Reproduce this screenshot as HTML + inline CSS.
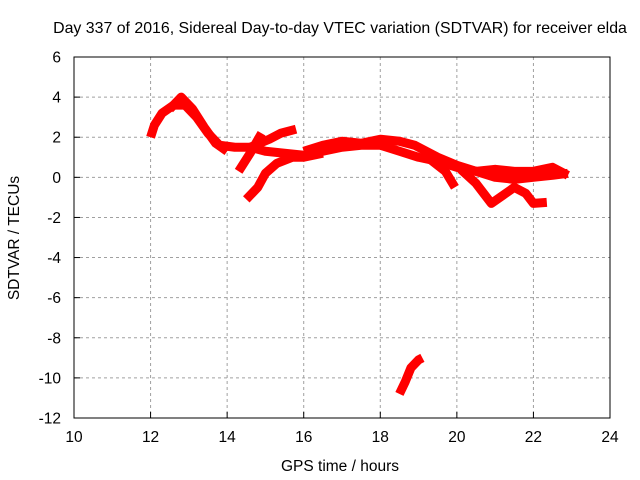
<!DOCTYPE html>
<html><head><meta charset="utf-8"><style>
body{margin:0;background:#fff}
svg{display:block;font-family:"Liberation Sans",sans-serif}
</style></head><body>
<svg id="c" width="640" height="480">
<rect width="640" height="480" fill="#fff"/>
<g id="grid"></g>
<g id="axes"></g>
<g id="series"></g>
<rect x="74" y="57" width="536" height="361" fill="none" stroke="#000" stroke-width="1"/>
<text x="340" y="33" text-anchor="middle" font-size="15.9">Day 337 of 2016, Sidereal Day-to-day VTEC variation (SDTVAR) for receiver elda</text>
<text x="340" y="471" text-anchor="middle" font-size="15.5">GPS time / hours</text>
<text transform="translate(19,238) rotate(-90)" text-anchor="middle" font-size="15.5">SDTVAR / TECUs</text>
</svg>
<script>
const xTicks=[10,12,14,16,18,20,22,24];
const yTicks=[6,4,2,0,-2,-4,-6,-8,-10,-12];
const trackMain=[[12.0,2.0],[12.1,2.6],[12.3,3.2],[12.6,3.6],[12.9,3.6],[13.2,3.0],[13.5,2.2],[13.8,1.6],[14.2,1.5],[14.6,1.5],[15.0,1.3],[15.5,1.2],[16,1.1],[16.5,1.3],[17,1.5],[17.5,1.6],[18,1.6],[18.5,1.3],[19,1.0],[19.5,0.8],[20,0.5],[20.5,0.3],[21,0.0],[21.5,-0.1],[22,0.0],[22.5,0.1],[22.9,0.2]];
const trackUpperArc=[[12.5,3.4],[12.8,4.0],[13.1,3.4],[13.4,2.5],[13.7,1.7],[14.0,1.3]];
const trackRiseB=[[14.5,-1.1],[14.8,-0.5],[15.0,0.2],[15.3,0.7],[15.7,1.0],[16,1.0],[16.5,1.2]];
const trackRiseC=[[14.3,0.3],[14.6,1.2],[14.9,2.2]];
const trackRiseD=[[14.6,1.5],[15.1,1.9],[15.4,2.2],[15.8,2.4]];
const trackUpperBand=[[16,1.3],[16.5,1.6],[17,1.8],[17.5,1.7],[18,1.9],[18.5,1.8],[18.9,1.6],[19.2,1.3],[19.5,1.0],[20,0.6],[20.5,0.3],[21,0.4],[21.5,0.3],[22,0.3],[22.5,0.5],[22.9,0.1]];
const trackDrop=[[19.3,0.9],[19.7,0.3],[19.95,-0.5]];
const trackLoop=[[20.1,0.4],[20.5,-0.3],[20.9,-1.3],[21.2,-0.9],[21.5,-0.5],[21.8,-0.8],[22.0,-1.3],[22.35,-1.25]];
const trackLow=[[18.5,-10.8],[18.65,-10.2],[18.8,-9.5],[19.0,-9.1],[19.1,-9.0]];
const tracks=[trackMain,trackUpperArc,trackRiseB,trackRiseC,trackRiseD,trackUpperBand,trackDrop,trackLoop,trackLow];
const NS="http://www.w3.org/2000/svg";
const X=h=>74+(h-10)*(536/14);
const Y=v=>57+(6-v)*(361/18);
const grid=document.getElementById('grid'),axes=document.getElementById('axes'),ser=document.getElementById('series');
function mk(tag,attrs,parent){const e=document.createElementNS(NS,tag);for(const k in attrs)e.setAttribute(k,attrs[k]);parent.appendChild(e);return e;}
xTicks.forEach(t=>{
  if(t>10&&t<24){const g=mk('line',{x1:X(t),x2:X(t),y1:57,y2:418,stroke:'#a0a0a0','stroke-dasharray':'3,3'},grid);
  
  }
  const tk=mk('line',{x1:X(t),x2:X(t),y1:418,y2:412,stroke:'#000'},axes);
  
  
  const l=mk('text',{x:X(t),y:442,'text-anchor':'middle','font-size':15.5},axes);l.textContent=t;
  
  
});
yTicks.forEach(t=>{
  if(t<6&&t>-12){const g=mk('line',{x1:74,x2:610,y1:Y(t),y2:Y(t),stroke:'#a0a0a0','stroke-dasharray':'3,3'},grid);
  
  }
  const tk=mk('line',{x1:74,x2:80,y1:Y(t),y2:Y(t),stroke:'#000'},axes);
  
  
  const l=mk('text',{x:61,y:Y(t)+5.5,'text-anchor':'end','font-size':15.5},axes);l.textContent=t;
  
  
});
tracks.forEach(tr=>{
  const p=mk('polyline',{points:tr.map(d=>X(d[0])+','+Y(d[1])).join(' '),fill:'none',stroke:'#ff0000','stroke-width':9,'stroke-linejoin':'round','stroke-linecap':'butt'},ser);
  
  
});
</script>
</body></html>
